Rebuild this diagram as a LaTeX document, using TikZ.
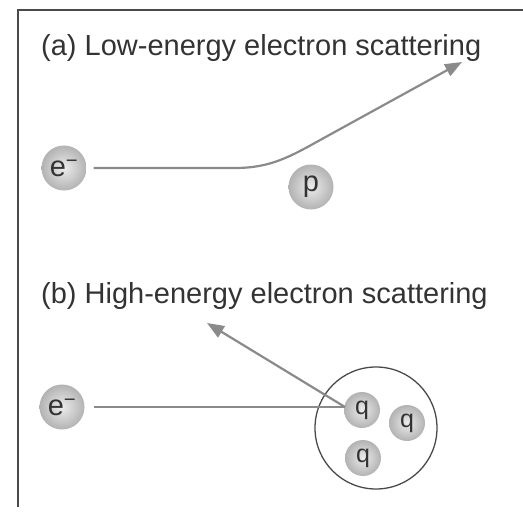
\documentclass[tikz,border=0pt]{standalone}
\usepackage{fontspec}
\setmainfont{Liberation Sans}
\usetikzlibrary{arrows.meta}
\definecolor{track}{HTML}{8A8A8A}
\definecolor{frame}{HTML}{4A4A4A}
\definecolor{ink}{HTML}{333333}

\begin{document}
\begin{tikzpicture}[x=1pt, y=1pt, >={Triangle[length=17pt,width=13pt]},
  ball/.style={circle, minimum size=45pt, inner sep=0pt, inner color=gray!15, outer color=gray!60, text=ink, font=\fontsize{29}{30}\selectfont},
  quark/.style={ball, minimum size=36pt, font=\fontsize{25}{26}\selectfont},
  title/.style={anchor=base west, inner sep=0pt, text=ink, font=\fontsize{29}{32}\selectfont},
  trackline/.style={draw=track, line width=2.2pt}]
  \useasboundingbox (0,0) rectangle (523,-517);
  \draw[frame, line width=1.6pt] (18,-507) -- (18,-10) -- (523,-10);
  % (a) low energy
  \node[title] (ta) at (41,-55) {(a) Low-energy electron scattering};
  \node[ball] (ea) at (64,-168) {e\textsuperscript{−}};
  \node[ball] (p) at (311,-187) {p};
  \coordinate (bend) at (235,-168);
  \coordinate (outa) at (462,-62);
  \draw[trackline, ->, shorten <=7pt] (ea.east) -- (bend) to[out=0, in=209] (322,-139) -- (outa);
  % (b) high energy
  \node[title] (tb) at (41,-303) {(b) High-energy electron scattering};
  \node[ball] (eb) at (62,-407) {e\textsuperscript{−}};
  \draw[frame, line width=1.3pt] (376,-428) circle (61);
  \node[quark] (q1) at (362,-410) {q};
  \node[quark] (q2) at (407,-423) {q};
  \node[quark] (q3) at (363,-458) {q};
  \coordinate (hit) at (345,-407);
  \coordinate (outb) at (207,-323);
  \draw[trackline, shorten <=9pt] (eb.east) -- (hit);
  \draw[trackline, ->] (hit) -- (outb);
\end{tikzpicture}
\end{document}
